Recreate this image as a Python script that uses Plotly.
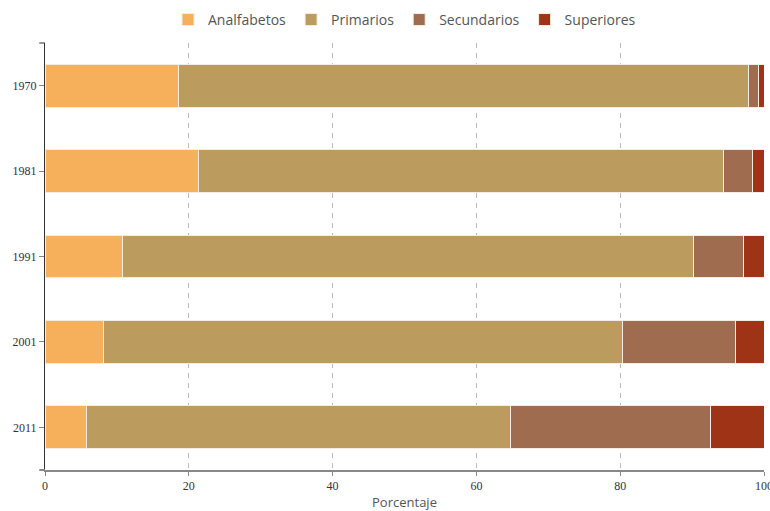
import plotly.graph_objects as go

years = ["1970", "1981", "1991", "2001", "2011"]
series_names = ["Analfabetos", "Primarios", "Secundarios", "Superiores"]
analfabetos = [18.5, 21.4, 10.8, 8.1, 5.8]
primarios = [79.4, 73.0, 79.4, 72.2, 59.0]
secundarios = [1.4, 4.0, 6.9, 15.8, 27.7]
superiores = [0.7, 1.6, 2.9, 3.9, 7.5]
colors = ["#F6B05C", "#BC9C5E", "#9F6C50", "#9E3415"]
x_ticks = [0, 20, 40, 60, 80, 100]

fig = go.Figure()
for name, vals, col in zip(series_names, [analfabetos, primarios, secundarios, superiores], colors):
    fig.add_trace(go.Bar(
        y=years, x=vals, name=name, orientation="h",
        marker=dict(color=col, line=dict(color="#F3ECE2", width=1)),
    ))

fig.update_layout(
    barmode="stack",
    bargap=0.5,
    width=770, height=511,
    margin=dict(l=45, r=6, t=43, b=41, autoexpand=False),
    plot_bgcolor="white", paper_bgcolor="white",
    legend=dict(orientation="h", x=0.5, xanchor="center", y=1.054, yanchor="middle",
                font=dict(family="Open Sans", size=14, color="#555"),
                itemwidth=30, traceorder="normal"),
    xaxis=dict(range=[0, 100], tickvals=x_ticks, showgrid=True, gridcolor="#BBBBBB",
               griddash="5px,5px", gridwidth=1, showline=True, linecolor="#888", linewidth=2,
               ticks="outside", ticklen=4, tickcolor="#888", zeroline=False, automargin=False,
               ticklabeloverflow="allow",
               tickfont=dict(family="Liberation Serif", size=12, color="#333"),
               title=dict(text="Porcentaje", font=dict(family="Open Sans", size=13, color="#555"), standoff=6)),
    yaxis=dict(autorange="reversed", showline=True, linecolor="#333", linewidth=1, automargin=False,
               ticks="outside", ticklen=5, tickcolor="#888", showgrid=False,
               tickfont=dict(family="Liberation Serif", size=12, color="#333")),
)
fig.add_shape(type="line", xref="paper", yref="paper", x0=-0.008, x1=0, y0=1, y1=1,
              line=dict(color="#333", width=1))
fig.add_shape(type="line", xref="paper", yref="paper", x0=-0.008, x1=0, y0=0, y1=0,
              line=dict(color="#888", width=2))
fig.write_html("out.html", config={"displayModeBar": False},
               post_script="document.body.style.margin='0';document.body.style.overflow='hidden';")
